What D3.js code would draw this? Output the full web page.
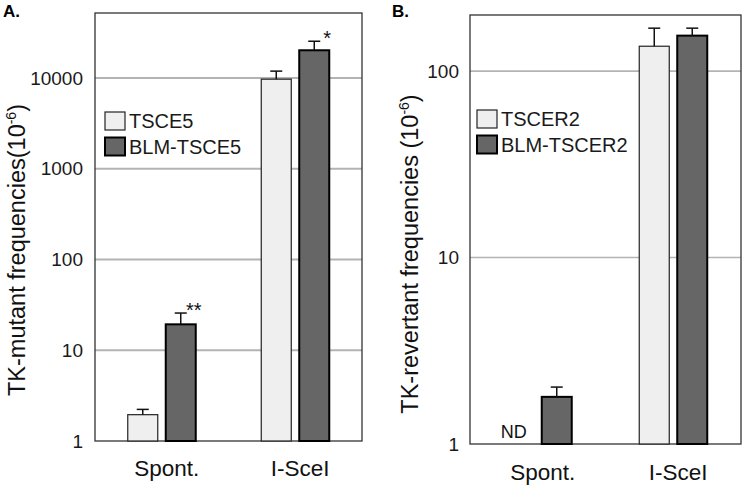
<!DOCTYPE html>
<html>
<head>
<meta charset="utf-8">
<script src="https://cdn.jsdelivr.net/npm/d3@7"></script>
<style>
  html, body { margin: 0; padding: 0; background: #fff; }
  svg { display: block; font-family: "Liberation Sans", Arial, Helvetica, sans-serif; }
  svg text { font-family: "Liberation Sans", Arial, Helvetica, sans-serif; }
</style>
</head>
<body>
<svg id="chart" width="742" height="486"></svg>
<script>
// ---------- data ----------
const categories = ["Spont.", "I-SceI"];

// Panel A
const seriesA = ["TSCE5", "BLM-TSCE5"];
const valuesA_TSCE5 = [1.95, 9700];
const errTopA_TSCE5 = [2.23, 11900];
const valuesA_BLM = [19.3, 20200];
const errTopA_BLM = [25.7, 25400];
const signifA_BLM = ["**", "*"];
const ticksA = [1, 10, 100, 1000, 10000];
const domainA = [1, 52000];

// Panel B
const seriesB = ["TSCER2", "BLM-TSCER2"];
const valuesB_TSCER2 = [null, 136];
const errTopB_TSCER2 = [null, 170];
const valuesB_BLM = [1.79, 155];
const errTopB_BLM = [2.02, 170];
const ticksB = [1, 10, 100];
const domainB = [1, 200];

const fills = ["#efefef", "#666666"];
const strokes = ["#222", "#000"];
const strokeW = [1.2, 2];

const svg = d3.select("#chart");

function panel(cfg) {
  const g = svg.append("g");
  const x = d3.scaleBand().domain(categories).range([cfg.left, cfg.right]).paddingInner(0).paddingOuter(0);
  const xs = d3.scaleBand().domain(cfg.series).range([-34, 34]).paddingInner(0.21).paddingOuter(0);
  const y = d3.scaleLog().domain(cfg.domain).range([cfg.bottom, cfg.top]);

  // gridlines
  g.append("g").selectAll("line").data(cfg.ticks.filter(t => t > cfg.domain[0]))
    .join("line")
    .attr("x1", cfg.left).attr("x2", cfg.right)
    .attr("y1", d => y(d)).attr("y2", d => y(d))
    .attr("stroke", "#b3b3b3").attr("stroke-width", cfg.gridW);

  // frame
  g.append("rect")
    .attr("x", cfg.left).attr("y", cfg.top)
    .attr("width", cfg.right - cfg.left).attr("height", cfg.bottom - cfg.top)
    .attr("fill", "none").attr("stroke", "#333").attr("stroke-width", 1.3);

  // y axis labels
  const ax = g.append("g").attr("transform", `translate(${cfg.left},0)`)
    .call(d3.axisLeft(y).tickValues(cfg.ticks).tickFormat(d3.format("d")).tickSize(0).tickPadding(cfg.tickPad));
  ax.select(".domain").remove();
  ax.attr("font-family", null).attr("font-size", null);
  ax.selectAll("text").attr("font-size", 19).attr("fill", "#1a1a1a");

  // bars
  const rows = [];
  cfg.series.forEach((s, si) => {
    categories.forEach((c, ci) => {
      rows.push({ s, si, c, v: cfg.values[si][ci], e: cfg.errs[si][ci], sig: cfg.signif[si] ? cfg.signif[si][ci] : null });
    });
  });
  const cx = d => x(d.c) + x.bandwidth() / 2 + xs(d.s);
  const valid = rows.filter(d => d.v != null);

  g.append("g").selectAll("rect").data(valid).join("rect")
    .attr("x", d => cx(d)).attr("width", xs.bandwidth())
    .attr("y", d => y(d.v)).attr("height", d => y(cfg.domain[0]) - y(d.v))
    .attr("fill", d => fills[d.si]).attr("stroke", d => strokes[d.si]).attr("stroke-width", d => strokeW[d.si]);

  // error bars (upper only)
  const eg = g.append("g").attr("stroke", "#111").attr("stroke-width", 1.5);
  valid.forEach(d => {
    const mx = cx(d) + xs.bandwidth() / 2;
    eg.append("line").attr("x1", mx).attr("x2", mx).attr("y1", y(d.v)).attr("y2", y(d.e));
    eg.append("line").attr("x1", mx - 6).attr("x2", mx + 6).attr("y1", y(d.e)).attr("y2", y(d.e));
  });

  // significance stars
  g.append("g").selectAll("text").data(valid.filter(d => d.sig)).join("text")
    .attr("x", d => cx(d) + xs.bandwidth() / 2 + 13)
    .attr("y", d => y(d.e) + 4)
    .attr("text-anchor", "middle").attr("font-size", 20).attr("fill", "#111")
    .text(d => d.sig);

  // ND labels
  g.append("g").selectAll("text").data(rows.filter(d => d.v == null)).join("text")
    .attr("x", d => cx(d) + xs.bandwidth() / 2 - 5)
    .attr("y", cfg.bottom - 6)
    .attr("text-anchor", "middle").attr("font-size", 18).attr("fill", "#111")
    .text("ND");

  // category labels
  g.append("g").selectAll("text").data(categories).join("text")
    .attr("x", d => x(d) + x.bandwidth() / 2 + 5)
    .attr("y", cfg.bottom + cfg.catDy)
    .attr("text-anchor", "middle").attr("font-size", 22.5).attr("fill", "#111")
    .text(d => d);

  // legend
  const lg = g.append("g");
  cfg.series.forEach((s, si) => {
    lg.append("rect")
      .attr("x", cfg.legX).attr("y", cfg.legY + si * 25.5)
      .attr("width", 20).attr("height", 18)
      .attr("fill", fills[si]).attr("stroke", strokes[si]).attr("stroke-width", strokeW[si]);
    lg.append("text")
      .attr("x", cfg.legX + 24).attr("y", cfg.legY + si * 25.5 + 16)
      .attr("font-size", 20).attr("fill", "#1a1a1a")
      .text(s);
  });

  // y title
  const t = g.append("text")
    .attr("transform", `translate(${cfg.titleX},${cfg.titleY}) rotate(-90)`)
    .attr("text-anchor", "middle").attr("font-size", 23.5).attr("fill", "#111");
  t.append("tspan").text(cfg.title);
  t.append("tspan").attr("font-size", 14).attr("dy", -9).text("-6");
  t.append("tspan").attr("dy", 9).text(")");

  // panel label
  g.append("text").attr("x", cfg.labX).attr("y", 17)
    .attr("font-size", 17).attr("font-weight", "bold").attr("fill", "#000").text(cfg.label);
}

panel({
  label: "A.", labX: 3,
  left: 95, right: 362, top: 13, bottom: 441,
  domain: domainA, ticks: ticksA, series: seriesA,
  values: [valuesA_TSCE5, valuesA_BLM], errs: [errTopA_TSCE5, errTopA_BLM],
  signif: [null, signifA_BLM],
  gridW: 2, tickPad: 12, catDy: 35,
  legX: 105, legY: 112,
  title: "TK-mutant frequencies(10", titleX: 25, titleY: 250
});

panel({
  label: "B.", labX: 392,
  left: 470, right: 741, top: 15, bottom: 444,
  domain: domainB, ticks: ticksB, series: seriesB,
  values: [valuesB_TSCER2, valuesB_BLM], errs: [errTopB_TSCER2, errTopB_BLM],
  signif: [null, null],
  gridW: 1.6, tickPad: 11, catDy: 36,
  legX: 477, legY: 110,
  title: "TK-revertant frequencies (10", titleX: 418, titleY: 254
});
</script>
</body>
</html>
